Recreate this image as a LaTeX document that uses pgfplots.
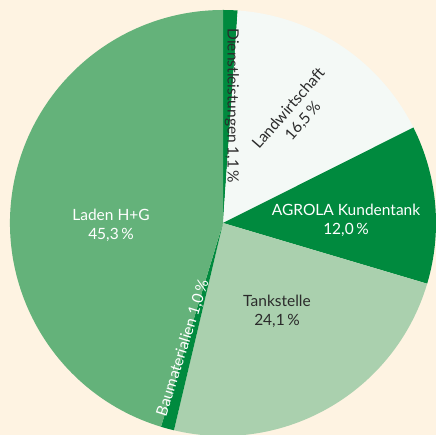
\documentclass[border=0pt]{standalone}
\usepackage{fontspec}
\setmainfont{Lato}
\usepackage{pgfplots}
\usepackage{pgfplotstable}
\pgfplotsset{compat=1.18}
\definecolor{bg}{HTML}{FEF3E2}
\definecolor{sc0}{HTML}{008A3E}
\definecolor{sc1}{HTML}{F4F9F6}
\definecolor{sc2}{HTML}{008A3E}
\definecolor{sc3}{HTML}{AAD0AE}
\definecolor{sc4}{HTML}{008A3E}
\definecolor{sc5}{HTML}{64B27A}
\definecolor{txtdark}{HTML}{2B2B2B}
\pgfplotstableread{
name value
Dienstleistungen 1.1
Landwirtschaft 16.5
AGROLA 12.0
Tankstelle 24.1
Baumaterialien 1.0
Laden 45.3
}\pietable
\begin{document}
\begin{tikzpicture}
\expandafter\xdef\csname pa0\endcsname{90}
\foreach \i in {0,...,5} {
  \pgfplotstablegetelem{\i}{value}\of\pietable
  \pgfmathsetmacro\nxt{\csname pa\i\endcsname - 3.6*\pgfplotsretval}
  \pgfmathtruncatemacro\j{\i+1}
  \expandafter\xdef\csname pe\i\endcsname{\nxt}
  \expandafter\xdef\csname pa\j\endcsname{\nxt}
}
\begin{axis}[
  hide axis, x=1pt, y=1pt, scale only axis,
  xmin=-223, xmax=213, ymin=-212, ymax=223,
  clip=true,
]
\fill[bg] (axis cs:-223,-212) rectangle (axis cs:213,223);
\pgfplotsinvokeforeach{0,...,5}{
  \fill[sc#1] (axis cs:0,0) -- ++(\csname pa#1\endcsname:213pt)
    arc[start angle=\csname pa#1\endcsname, end angle=\csname pe#1\endcsname, radius=213pt] -- cycle;
}
\begin{scope}[every node/.style={font=\fontsize{15.5}{19}\selectfont, align=center, inner sep=0pt}]
\node[white] at (axis cs:-112,-2) {Laden H+G\\45,3\,\%};
\node[txtdark] at (axis cs:54,-88) {Tankstelle\\24,1\,\%};
\node[white] at (axis cs:123,3) {AGROLA Kundentank\\12,0\,\%};
\node[txtdark, rotate=49] at (axis cs:73,108) {Landwirtschaft\\16,5\,\%};
\node[txtdark, rotate=-90] at (axis cs:9,117) {Dienstleistungen 1,1\,\%};
\node[white, rotate=72.5] at (axis cs:-40,-125) {Baumaterialien 1,0\,\%};
\end{scope}
\end{axis}
\end{tikzpicture}
\end{document}
